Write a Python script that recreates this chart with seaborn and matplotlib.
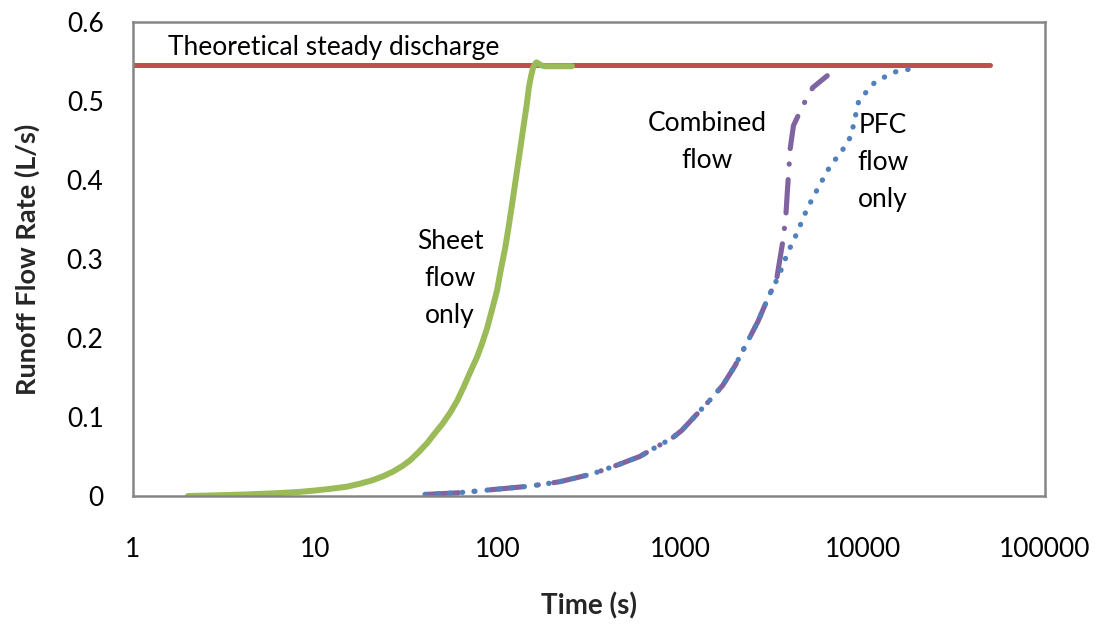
import numpy as np
import pandas as pd
import matplotlib
matplotlib.use("Agg")
import matplotlib.pyplot as plt
import seaborn as sns
from matplotlib.ticker import FixedLocator, FixedFormatter, NullLocator

# ---- data ----
sheet_t = [2, 3, 4.2, 6, 8, 9.7, 12, 14.9, 17.5, 20.6, 23.5, 26.7, 30, 33, 37, 41, 45, 50, 55,
           60, 65, 70, 77, 82, 87.5, 93, 99, 104, 110, 114.5, 119, 124, 129, 134, 139, 144, 148,
           152, 156, 160, 163, 168, 174, 181, 200, 225, 255]
sheet_q = [0.0, 0.001, 0.002, 0.0035, 0.005, 0.0067, 0.009, 0.0118, 0.0155, 0.020, 0.025, 0.031,
           0.038, 0.045, 0.056, 0.067, 0.079, 0.092, 0.106, 0.121, 0.138, 0.155, 0.176, 0.193,
           0.213, 0.236, 0.26, 0.287, 0.315, 0.34, 0.365, 0.393, 0.42, 0.446, 0.471, 0.495, 0.517,
           0.531, 0.542, 0.547, 0.549, 0.547, 0.545, 0.544, 0.544, 0.544, 0.544]

pfc_t = [40, 60, 103, 150, 218, 330, 450, 600, 700, 900, 1020, 1450, 1710, 2000, 2670, 3020,
         3220, 3450, 3870, 4370, 4950, 5700, 6580, 7300, 7990, 8650, 9500, 10600, 11600, 13100,
         15200, 17800]
pfc_q = [0.002, 0.004, 0.009, 0.0125, 0.018, 0.028, 0.039, 0.05, 0.059, 0.073, 0.083, 0.121,
         0.14, 0.165, 0.221, 0.25, 0.264, 0.277, 0.307, 0.333, 0.363, 0.39, 0.416, 0.43, 0.442,
         0.456, 0.499, 0.513, 0.523, 0.53, 0.537, 0.54]

comb_t = [40, 60, 103, 150, 218, 330, 450, 600, 700, 900, 1020, 1450, 1710, 2000, 2670, 3020,
          3370, 3680, 3800, 3870, 4010, 4180, 4750, 5330, 6400]
comb_q = [0.002, 0.004, 0.009, 0.0125, 0.018, 0.028, 0.039, 0.05, 0.059, 0.073, 0.083, 0.121,
          0.14, 0.165, 0.221, 0.25, 0.273, 0.327, 0.357, 0.386, 0.44, 0.469, 0.496, 0.517, 0.532]

steady_t = [1, 50000]
steady_q = [0.545, 0.545]

x_ticks = [1, 10, 100, 1000, 10000, 100000]
x_tick_labels = ["1", "10", "100", "1000", "10000", "100000"]
y_ticks = [0, 0.1, 0.2, 0.3, 0.4, 0.5, 0.6]
y_tick_labels = ["0", "0.1", "0.2", "0.3", "0.4", "0.5", "0.6"]

# ---- style ----
sns.set_style("white")
plt.rcParams['font.family'] = ['Lato', 'DejaVu Sans']

fig = plt.figure(figsize=(11, 6.24), dpi=100)
ax = fig.add_axes([133 / 1100, 1 - 496 / 624, (1045 - 133) / 1100, (496 - 22) / 624])

red = "#C0504D"
green = "#9BBB59"
purple = "#8064A2"
blue = "#4F81BD"

df_steady = pd.DataFrame({"t": steady_t, "q": steady_q})
df_sheet = pd.DataFrame({"t": sheet_t, "q": sheet_q})
df_comb = pd.DataFrame({"t": comb_t, "q": comb_q})
df_pfc = pd.DataFrame({"t": pfc_t, "q": pfc_q})

sns.lineplot(data=df_steady, x="t", y="q", ax=ax, color=red, linewidth=3.6,
             estimator=None, sort=False, solid_capstyle="round")
sns.lineplot(data=df_sheet, x="t", y="q", ax=ax, color=green, linewidth=4.3,
             estimator=None, sort=False, solid_capstyle="round", solid_joinstyle="round")
sns.lineplot(data=df_comb, x="t", y="q", ax=ax, color=purple, linewidth=3.7,
             estimator=None, sort=False)
comb_line = ax.lines[-1]
comb_line.set_dashes((6.5, 3.0, 0.05, 3.0))
comb_line.set_dash_capstyle("round")
sns.lineplot(data=df_pfc, x="t", y="q", ax=ax, color=blue, linewidth=3.8,
             estimator=None, sort=False)
pfc_line = ax.lines[-1]
pfc_line.set_dashes((0.05, 2.3))
pfc_line.set_dash_capstyle("round")

ax.set_xscale("log")
ax.set_xlim(1, 100000)
ax.set_ylim(0, 0.6)
ax.xaxis.set_major_locator(FixedLocator(x_ticks))
ax.xaxis.set_major_formatter(FixedFormatter(x_tick_labels))
ax.xaxis.set_minor_locator(NullLocator())
ax.yaxis.set_major_locator(FixedLocator(y_ticks))
ax.yaxis.set_major_formatter(FixedFormatter(y_tick_labels))

axis_gray = "#868686"
for s in ax.spines.values():
    s.set_visible(True)
    s.set_color(axis_gray)
    s.set_linewidth(1.8)

ax.tick_params(axis="both", which="major", direction="out", length=7.2, width=1.8,
               color=axis_gray, labelsize=19, labelcolor="black")
ax.tick_params(axis="x", pad=22)
ax.tick_params(axis="y", pad=14)
ax.grid(False)

ax.set_xlabel("Time (s)", fontsize=20, fontweight="bold", labelpad=22)
ax.set_ylabel("Runoff Flow Rate (L/s)", fontsize=19.5, fontweight="bold", labelpad=19)

txt_kw = dict(fontsize=19, color="black", linespacing=1.6)
ax.text(1.56, 0.568, "Theoretical steady discharge", ha="left", va="center", **txt_kw)
ax.text(54.7, 0.275, "Sheet\nflow\nonly", ha="center", va="center", **txt_kw)
ax.text(1403, 0.448, "Combined\nflow", ha="center", va="center", **txt_kw)
ax.text(12940, 0.422, "PFC\nflow\nonly", ha="center", va="center", **txt_kw)

fig.savefig("out.png", dpi=100)
